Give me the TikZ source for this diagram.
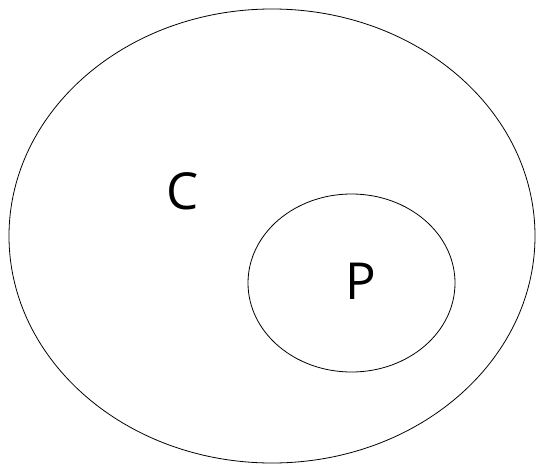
\documentclass[tikz,border=0pt]{standalone}
\usepackage{fontspec}
\setmainfont{Open Sans}
\usetikzlibrary{shapes.geometric, positioning}

\begin{document}
\begin{tikzpicture}[
    x=1pt, y=-1pt,
    set/.style={draw, ellipse, line width=0.8pt, inner sep=0pt},
    setname/.style={font=\fontsize{51}{51}\selectfont, inner sep=0pt}
]
    \useasboundingbox (0,0) rectangle (537,465);

    \node[set, minimum width=526pt, minimum height=454pt] (outer) at (272,236) {};
    \node[set, minimum width=207pt, minimum height=178pt] (inner) at (351.5,283) {};

    \node[setname] (c) at (183,191) {C};
    \node[setname] (p) at (361,281) {P};
\end{tikzpicture}
\end{document}
